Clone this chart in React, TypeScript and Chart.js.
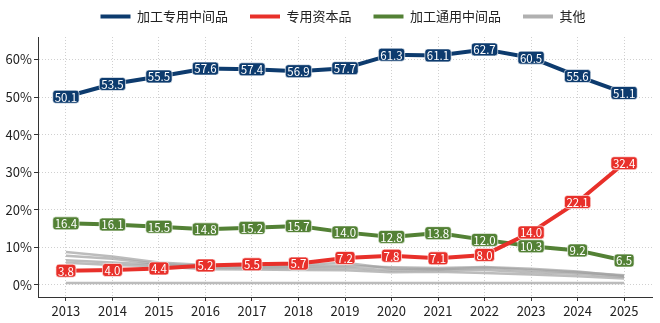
import React, { useEffect, useRef } from "react";
import { Chart, registerables } from "chart.js";

Chart.register(...registerables);

const years = [2013, 2014, 2015, 2016, 2017, 2018, 2019, 2020, 2021, 2022, 2023, 2024, 2025];
const processingSpecial = [50.1, 53.5, 55.5, 57.6, 57.4, 56.9, 57.7, 61.3, 61.1, 62.7, 60.5, 55.6, 51.1];
const specialCapital = [3.8, 4.0, 4.4, 5.2, 5.5, 5.7, 7.2, 7.8, 7.1, 8.0, 14.0, 22.1, 32.4];
const processingGeneral = [16.4, 16.1, 15.5, 14.8, 15.2, 15.7, 14.0, 12.8, 13.8, 12.0, 10.3, 9.2, 6.5];
const otherA = [8.8, 7.6, 6.0, 5.3, 5.2, 5.3, 5.9, 4.4, 4.2, 4.6, 4.0, 3.4, 2.6];
const otherB = [7.8, 7.0, 5.6, 5.0, 4.9, 4.9, 5.1, 4.7, 4.5, 4.8, 4.3, 3.6, 2.4];
const otherC = [6.6, 6.0, 5.4, 4.6, 4.5, 4.5, 4.6, 3.9, 4.0, 4.0, 3.4, 3.0, 2.2];
const otherD = [5.9, 5.3, 5.0, 4.2, 4.1, 4.0, 3.9, 3.4, 3.5, 3.2, 2.8, 2.3, 1.7];
const otherE = [0.5, 0.5, 0.5, 0.5, 0.5, 0.5, 0.5, 0.5, 0.5, 0.5, 0.5, 0.5, 0.5];
const yTicks = [0, 10, 20, 30, 40, 50, 60];

const seriesNames = ["加工专用中间品", "专用资本品", "加工通用中间品", "其他"];
const NAVY = "#0d3b6e";
const RED = "#e8302a";
const GREEN = "#538135";
const GRAY = "rgba(160,160,160,0.7)";
const FONT = "'Noto Sans CJK SC', 'Noto Sans', sans-serif";
const LEGEND_PAD = 22;

const toPts = (arr: number[]) => arr.map((v, i) => ({ x: years[i], y: v }));

const labelPlugin = {
  id: "valueLabels",
  afterDatasetsDraw(chart: any) {
    const ctx = chart.ctx;
    ctx.save();
    ctx.font = `11.5px ${FONT}`;
    ctx.textAlign = "center";
    ctx.textBaseline = "middle";
    chart.data.datasets.forEach((ds: any, i: number) => {
      if (!ds.showLabels) return;
      const meta = chart.getDatasetMeta(i);
      meta.data.forEach((pt: any, j: number) => {
        const txt = ds.data[j].y.toFixed(1);
        const w = ctx.measureText(txt).width + 4;
        const h = 13;
        ctx.beginPath();
        ctx.roundRect(pt.x - w / 2, pt.y - h / 2, w, h, 3);
        ctx.fillStyle = ds.borderColor;
        ctx.fill();
        ctx.lineWidth = 0.8;
        ctx.strokeStyle = "rgba(255,255,255,0.8)";
        ctx.stroke();
        ctx.fillStyle = "#ffffff";
        ctx.fillText(txt, pt.x, pt.y + 0.5);
      });
    });
    ctx.restore();
  },
};

const legendSpacing = {
  id: "legendSpacing",
  beforeLayout(chart: any) {
    const lg = chart.legend;
    if (lg && !lg._patched) {
      const extra = LEGEND_PAD - 10;
      const origFit = lg.fit;
      lg.fit = function () {
        origFit.call(this);
        this.height = this.height - 8;
      };
      const origDraw = lg._draw;
      lg._draw = function () {
        const t = this.top;
        const l = this.left;
        const r = this.right;
        this.top = t - extra;
        this.left = l + 17;
        this.right = r + 17;
        origDraw.call(this);
        this.top = t;
        this.left = l;
        this.right = r;
      };
      lg._patched = true;
    }
  },
};

export default function App() {
  const ref = useRef<HTMLCanvasElement>(null);
  useEffect(() => {
    if (!ref.current) return;
    const main = (label: string, arr: number[], color: string) => ({
      label,
      data: toPts(arr),
      borderColor: color,
      backgroundColor: color,
      borderWidth: 4,
      pointRadius: 0,
      tension: 0,
      showLabels: true,
    });
    const other = (arr: number[]) => ({
      label: seriesNames[3],
      data: toPts(arr),
      borderColor: GRAY,
      backgroundColor: "#b0b0b0",
      borderWidth: 2.5,
      pointRadius: 0,
      tension: 0,
    });
    const gridOpts = {
      color: "#d0d0d0",
      tickBorderDash: [],
      tickColor: "#333",
      tickLength: 4,
    };
    const chart = new Chart(ref.current, {
      type: "line",
      data: {
        datasets: [
          main(seriesNames[0], processingSpecial, NAVY),
          main(seriesNames[1], specialCapital, RED),
          main(seriesNames[2], processingGeneral, GREEN),
          other(otherA),
          other(otherB),
          other(otherC),
          other(otherD),
          other(otherE),
        ] as any,
      },
      options: {
        animation: false,
        responsive: true,
        maintainAspectRatio: false,
        layout: { padding: { left: 0, right: 8, top: 0, bottom: 0 } },
        plugins: {
          tooltip: { enabled: false },
          legend: {
            position: "top",
            labels: {
              boxWidth: 30,
              boxHeight: 4,
              padding: LEGEND_PAD,
              color: "#222",
              font: { size: 13, family: FONT },
              filter: (item: any) => item.datasetIndex <= 3,
              generateLabels: (chart: any) => {
                const items = (Chart.defaults.plugins.legend.labels as any).generateLabels(chart);
                return items.map((it: any) => ({ ...it, lineWidth: 0 }));
              },
            },
          },
        },
        scales: {
          x: {
            type: "linear",
            min: 2012.4,
            max: 2025.6,
            afterBuildTicks: (s: any) => {
              s.ticks = years.map((v) => ({ value: v }));
            },
            afterFit: (s: any) => {
              s.height = 26;
            },
            ticks: {
              color: "#222",
              font: { size: 13, family: FONT },
              padding: 2,
              callback: (v: any) => String(v),
              maxRotation: 0,
            },
            grid: gridOpts as any,
            border: { display: true, color: "#333", width: 1, dash: [1, 2] },
          },
          y: {
            type: "linear",
            min: -3.2,
            max: 66,
            afterBuildTicks: (s: any) => {
              s.ticks = yTicks.map((v) => ({ value: v }));
            },
            afterFit: (s: any) => {
              s.width = 38;
            },
            ticks: {
              color: "#222",
              font: { size: 13, family: FONT },
              padding: 2,
              callback: (v: any) => `${v}%`,
            },
            grid: gridOpts as any,
            border: { display: true, color: "#333", width: 1, dash: [1, 2] },
          },
        },
      } as any,
      plugins: [labelPlugin, legendSpacing],
    });
    return () => chart.destroy();
  }, []);
  return (
    <div style={{ position: "fixed", left: 0, top: 0, width: 660, height: 323, background: "#fff" }}>
      <canvas ref={ref} />
    </div>
  );
}
